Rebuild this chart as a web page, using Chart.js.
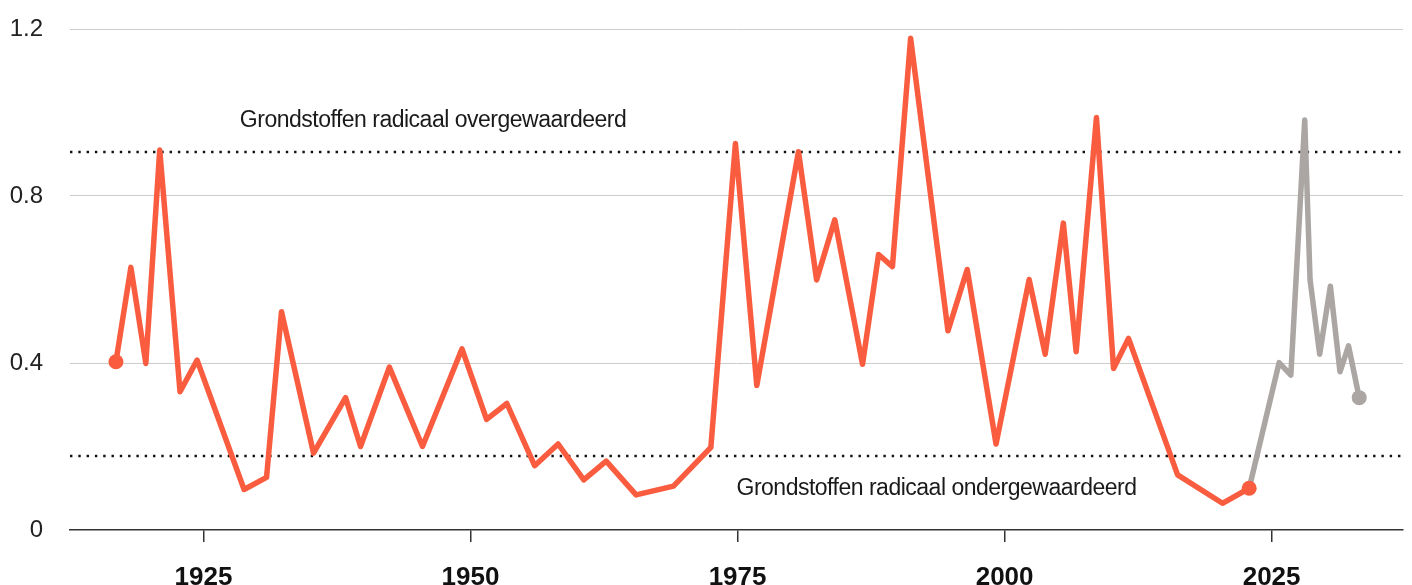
<!DOCTYPE html>
<html><head><meta charset="utf-8">
<script src="https://cdn.jsdelivr.net/npm/chart.js@4"></script>
<style>html,body{margin:0;padding:0;background:#fff;overflow:hidden}</style>
</head><body>
<canvas id="c" width="1412" height="585"></canvas>
<script>
const histYears = [1916.8,1918.2,1919.6,1920.9,1922.8,1924.4,1928.8,1930.9,1932.3,1935.3,1938.3,1939.7,1942.4,1945.5,1949.2,1951.5,1953.4,1956.0,1958.2,1960.6,1962.7,1965.5,1969.0,1972.5,1974.8,1976.8,1980.7,1982.4,1984.1,1986.7,1988.2,1989.5,1991.2,1994.7,1996.5,1999.2,2002.3,2003.8,2005.5,2006.7,2008.6,2010.2,2011.6,2016.2,2020.4,2022.9];
const histValues = [0.403,0.629,0.399,0.91,0.331,0.407,0.097,0.126,0.523,0.184,0.317,0.2,0.39,0.2,0.434,0.265,0.303,0.154,0.206,0.12,0.165,0.084,0.105,0.198,0.926,0.346,0.906,0.599,0.743,0.397,0.66,0.631,1.178,0.477,0.624,0.206,0.6,0.421,0.735,0.427,0.988,0.387,0.459,0.132,0.064,0.1];
const projYears = [2022.9,2025.7,2026.8,2028.1,2028.6,2029.5,2030.5,2031.4,2032.2,2033.2];
const projValues = [0.1,0.401,0.371,0.982,0.599,0.421,0.584,0.379,0.441,0.317];
const xTickValues = [1925,1950,1975,2000,2025];
const yTickValues = [0,0.4,0.8,1.2];
const overvaluedLevel = 0.906;
const undervaluedLevel = 0.178;
const overLabel = 'Grondstoffen radicaal overgewaardeerd';
const underLabel = 'Grondstoffen radicaal ondergewaardeerd';
const overLabelAt = {year:1928.4, value:0.965};
const underLabelAt = {year:1974.9, value:0.084};

const ORANGE = '#F95C3F';
const GREY = '#ABA6A3';
const FAMILY = '"Liberation Sans", Arial, sans-serif';

const histPoints = histYears.map((yr,i)=>({x:yr, y:histValues[i]}));
const projPoints = projYears.map((yr,i)=>({x:yr, y:projValues[i]}));

const bands = {
  id:'bands',
  beforeDatasetsDraw(chart){
    const {ctx, chartArea:a, scales:{x,y}} = chart;
    ctx.save();
    ctx.strokeStyle = '#111';
    ctx.lineWidth = 2.4;
    ctx.setLineDash([2.4,5.9]);
    [overvaluedLevel, undervaluedLevel].forEach(v=>{
      const py = Math.round(y.getPixelForValue(v));
      ctx.beginPath(); ctx.moveTo(a.left, py); ctx.lineTo(a.right, py); ctx.stroke();
    });
    ctx.setLineDash([]);
    ctx.fillStyle = '#1a1a1a';
    ctx.font = '23px ' + FAMILY;
    try { ctx.letterSpacing = '-0.5px'; } catch(e) {}
    ctx.textAlign = 'left';
    ctx.textBaseline = 'alphabetic';
    ctx.fillText(overLabel, x.getPixelForValue(overLabelAt.year), y.getPixelForValue(overLabelAt.value));
    ctx.fillText(underLabel, x.getPixelForValue(underLabelAt.year), y.getPixelForValue(underLabelAt.value));
    ctx.restore();
  }
};

new Chart(document.getElementById('c'), {
  type:'line',
  data:{
    datasets:[
      {data:histPoints, borderColor:ORANGE, backgroundColor:ORANGE, borderWidth:5.5, tension:0,
       borderJoinStyle:'round', borderCapStyle:'round',
       pointRadius: histPoints.map((p,i)=> (i===0||i===histPoints.length-1)?7.5:0),
       pointBorderWidth:0, pointHoverRadius:0, order:1},
      {data:projPoints, borderColor:GREY, backgroundColor:GREY, borderWidth:5.5, tension:0,
       borderJoinStyle:'round', borderCapStyle:'round',
       pointRadius: projPoints.map((p,i)=> (i===projPoints.length-1)?7.5:0),
       pointBorderWidth:0, pointHoverRadius:0, order:2}
    ]
  },
  options:{
    responsive:false,
    animation:false,
    devicePixelRatio:1,
    layout:{padding:{top:29,right:9,left:0,bottom:0}},
    plugins:{legend:{display:false}, tooltip:{enabled:false}},
    events:[],
    scales:{
      x:{
        type:'linear', min:1912.5, max:2037.3,
        afterBuildTicks:s=>{ s.ticks = xTickValues.map(v=>({value:v})); },
        afterFit:s=>{ s.height = 55; s.paddingLeft = 0; s.paddingRight = 0; },
        ticks:{font:{family:FAMILY, size:26, weight:'bold'}, color:'#111', padding:20, maxRotation:0, autoSkip:false,
               callback:v=>String(v)},
        grid:{drawOnChartArea:false, drawTicks:true, tickLength:12, color:'#333', lineWidth:1.5},
        border:{color:'#333', width:1.5}
      },
      y:{
        min:0, max:1.2,
        afterBuildTicks:s=>{ s.ticks = yTickValues.map(v=>({value:v})); },
        afterFit:s=>{ s.width = 70; s.paddingTop = 0; s.paddingBottom = 0; },
        ticks:{font:{family:FAMILY, size:24}, color:'#222', padding:27,
               callback:v=> v===0 ? '0' : v.toFixed(1)},
        grid:{drawTicks:false, lineWidth:1, color:c=> c.tick && c.tick.value===0 ? 'rgba(0,0,0,0)' : '#cccccc'},
        border:{display:false}
      }
    }
  },
  plugins:[bands]
});
</script>
</body></html>
